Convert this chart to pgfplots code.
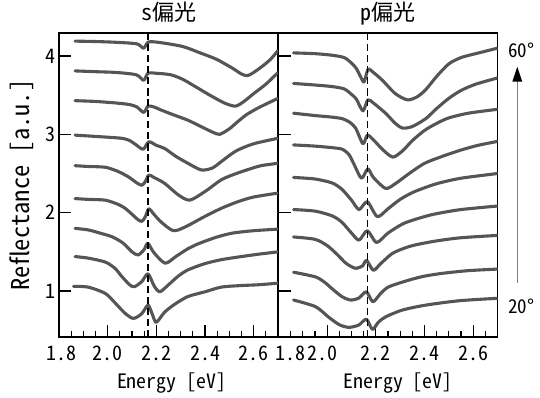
\documentclass[border=0pt]{standalone}
\usepackage{fontspec}
\setmainfont[RawFeature=+hwid]{Noto Sans CJK JP}
\usepackage{pgfplots}
\pgfplotsset{compat=1.18}
\definecolor{cg}{RGB}{85,85,85}
\pgfplotsset{
  panel/.style={
    scale only axis, width=219pt, height=304pt,
    xmin=1.8, xmax=2.7, ymin=0.413, ymax=4.294,
    axis line style={line width=1.3pt},
    xtick={1.8,2.0,2.2,2.4,2.6},
    minor xtick={1.85,1.9,1.95,2.05,2.1,2.15,2.25,2.3,2.35,2.45,2.5,2.55,2.65},
    ytick={1,2,3,4},
    xtick pos=bottom, ytick pos=left,
    tick align=inside,
    major tick length=12pt, minor tick length=6pt,
    tick style={black, line width=1.3pt},
    tick label style={font=\fontsize{20}{20}\selectfont},
    xticklabel style={yshift=-5pt},
    title style={font=\fontsize{22}{22}\selectfont, at={(0.5,1)}, anchor=base, yshift=6pt},
    cycle list={{cg,mark=none},{cg,mark=none}},
    every axis plot/.append style={line width=3.1pt, smooth, tension=0.45, line join=round, line cap=round},
  },
  dline/.style={black, line width=1.4pt, dash pattern=on 7pt off 4pt, line cap=butt},
}
\begin{document}
\begin{tikzpicture}
\useasboundingbox (0pt,0pt) rectangle (540pt,398pt);
% ---------------- s-polarized ----------------
\begin{axis}[panel, at={(59pt,61pt)}, anchor=south west,
  title={s偏光},
  xticklabels={\hspace*{4pt}1.8,2.0,2.2,2.4,2.6},
  yticklabels={1,2,3,4},
  xlabel={Energy [eV]},
  xlabel style={font=\fontsize{19.8}{19.8}\selectfont, at={(axis description cs:0.5,0)}, anchor=center, yshift=-46pt, xshift=3pt},
  ylabel={Reflectance [a.u.]},
  ylabel style={font=\fontsize{24.5}{24.5}\selectfont, at={(axis description cs:-0.169,0.5)}, anchor=center}]
% 20 deg
\addplot coordinates {(1.86,1.06) (1.92,1.05) (1.99,0.97) (2.03,0.85) (2.07,0.72) (2.105,0.65) (2.14,0.71) (2.166,0.82) (2.185,0.69) (2.20,0.60) (2.234,0.73) (2.275,0.83) (2.33,0.93) (2.40,0.99) (2.467,1.05) (2.55,1.07) (2.62,1.08) (2.70,1.10)};
% 25 deg
\addplot coordinates {(1.866,1.44) (1.92,1.42) (1.99,1.37) (2.03,1.29) (2.057,1.19) (2.09,1.08) (2.11,1.055) (2.14,1.12) (2.166,1.22) (2.19,1.07) (2.214,0.99) (2.25,1.08) (2.29,1.19) (2.33,1.27) (2.40,1.35) (2.467,1.40) (2.55,1.44) (2.62,1.47) (2.70,1.50)};
% 30 deg
\addplot coordinates {(1.866,1.80) (1.92,1.78) (1.968,1.74) (2.02,1.69) (2.064,1.61) (2.10,1.50) (2.125,1.46) (2.15,1.53) (2.165,1.61) (2.19,1.49) (2.236,1.355) (2.28,1.44) (2.33,1.54) (2.378,1.61) (2.45,1.69) (2.514,1.74) (2.60,1.77) (2.70,1.79)};
% 35 deg
\addplot coordinates {(1.866,2.18) (1.92,2.17) (1.99,2.16) (2.04,2.11) (2.07,2.06) (2.10,1.98) (2.125,1.91) (2.141,1.89) (2.155,1.95) (2.169,2.05) (2.19,1.98) (2.22,1.88) (2.27,1.77) (2.32,1.82) (2.398,1.95) (2.47,2.06) (2.535,2.14) (2.60,2.20) (2.70,2.25)};
% 40 deg
\addplot coordinates {(1.866,2.60) (1.92,2.59) (1.99,2.58) (2.04,2.53) (2.084,2.46) (2.12,2.38) (2.141,2.35) (2.155,2.40) (2.169,2.48) (2.19,2.45) (2.234,2.375) (2.289,2.23) (2.337,2.16) (2.40,2.27) (2.467,2.42) (2.52,2.49) (2.576,2.55) (2.63,2.60) (2.70,2.63)};
% 45 deg
\addplot coordinates {(1.866,2.99) (1.968,2.97) (2.057,2.95) (2.091,2.92) (2.115,2.87) (2.146,2.81) (2.169,2.905) (2.20,2.86) (2.234,2.82) (2.28,2.72) (2.33,2.63) (2.385,2.545) (2.43,2.57) (2.466,2.65) (2.50,2.73) (2.535,2.80) (2.60,2.88) (2.70,2.95)};
% 50 deg
\addplot coordinates {(1.866,3.43) (1.95,3.42) (2.036,3.40) (2.09,3.38) (2.12,3.35) (2.148,3.28) (2.166,3.36) (2.19,3.35) (2.22,3.31) (2.27,3.25) (2.33,3.18) (2.39,3.09) (2.43,3.03) (2.46,3.00) (2.50,3.07) (2.53,3.15) (2.57,3.25) (2.62,3.34) (2.70,3.46)};
% 55 deg
\addplot coordinates {(1.866,3.81) (1.95,3.80) (2.036,3.79) (2.118,3.76) (2.148,3.69) (2.166,3.78) (2.20,3.78) (2.26,3.76) (2.31,3.70) (2.36,3.61) (2.42,3.50) (2.48,3.40) (2.525,3.36) (2.56,3.42) (2.60,3.52) (2.65,3.64) (2.70,3.79)};
% 60 deg
\addplot coordinates {(1.866,4.19) (1.95,4.185) (2.036,4.175) (2.12,4.155) (2.148,4.10) (2.168,4.18) (2.22,4.17) (2.31,4.12) (2.38,4.04) (2.446,3.96) (2.51,3.85) (2.55,3.77) (2.575,3.75) (2.60,3.79) (2.64,3.88) (2.67,3.96) (2.70,4.07)};
\addplot[dline] coordinates {(2.165,0.413) (2.165,4.294)};
\end{axis}
% ---------------- p-polarized ----------------
\begin{axis}[panel, at={(278.5pt,61pt)}, anchor=south west,
  title={p偏光},
  xticklabels={\hspace*{24pt}1.8,2.0\hspace*{10pt},2.2,2.4,2.6},
  yticklabels={},
  xlabel={Energy [eV]},
  xlabel style={font=\fontsize{19.8}{19.8}\selectfont, at={(axis description cs:0.5,0)}, anchor=center, yshift=-46pt, xshift=10pt}]
% 20 deg
\addplot coordinates {(1.862,0.885) (1.952,0.80) (2.007,0.664) (2.05,0.57) (2.089,0.536) (2.13,0.566) (2.161,0.64) (2.186,0.51) (2.21,0.60) (2.24,0.67) (2.309,0.757) (2.405,0.82) (2.543,0.876) (2.70,0.907)};
% 25 deg
\addplot coordinates {(1.862,1.24) (1.952,1.18) (1.99,1.11) (2.02,1.03) (2.06,0.93) (2.096,0.885) (2.13,0.91) (2.161,0.99) (2.188,0.863) (2.22,0.97) (2.254,1.055) (2.337,1.14) (2.40,1.19) (2.474,1.226) (2.58,1.26) (2.70,1.28)};
% 30 deg
\addplot coordinates {(1.862,1.69) (1.95,1.66) (2.00,1.58) (2.04,1.47) (2.075,1.36) (2.10,1.31) (2.12,1.29) (2.145,1.32) (2.162,1.39) (2.19,1.265) (2.22,1.35) (2.268,1.48) (2.32,1.55) (2.364,1.59) (2.45,1.64) (2.55,1.68) (2.70,1.71)};
% 35 deg
\addplot coordinates {(1.862,2.04) (1.95,2.02) (2.02,1.96) (2.06,1.88) (2.10,1.74) (2.131,1.65) (2.165,1.77) (2.203,1.62) (2.25,1.74) (2.316,1.865) (2.40,1.95) (2.454,1.99) (2.55,2.04) (2.70,2.085)};
% 40 deg
\addplot coordinates {(1.862,2.45) (1.95,2.43) (2.02,2.38) (2.06,2.30) (2.10,2.16) (2.131,2.04) (2.165,2.14) (2.206,1.95) (2.25,2.05) (2.30,2.17) (2.36,2.27) (2.45,2.37) (2.55,2.44) (2.70,2.50)};
% 45 deg
\addplot coordinates {(1.862,2.865) (1.95,2.85) (2.02,2.83) (2.062,2.81) (2.09,2.74) (2.11,2.62) (2.141,2.44) (2.167,2.56) (2.19,2.45) (2.24,2.31) (2.28,2.37) (2.337,2.50) (2.40,2.63) (2.474,2.72) (2.55,2.80) (2.62,2.86) (2.70,2.91)};
% 50 deg
\addplot coordinates {(1.862,3.27) (1.95,3.24) (2.02,3.22) (2.062,3.20) (2.09,3.16) (2.117,3.08) (2.147,2.88) (2.165,2.99) (2.19,2.93) (2.23,2.80) (2.27,2.71) (2.31,2.79) (2.35,2.92) (2.40,3.05) (2.45,3.14) (2.50,3.21) (2.58,3.27) (2.70,3.32)};
% 55 deg
\addplot coordinates {(1.862,3.65) (1.95,3.63) (2.02,3.61) (2.07,3.58) (2.10,3.51) (2.12,3.45) (2.147,3.30) (2.167,3.44) (2.19,3.40) (2.24,3.27) (2.28,3.14) (2.31,3.08) (2.35,3.10) (2.405,3.20) (2.45,3.33) (2.50,3.46) (2.55,3.56) (2.61,3.64) (2.70,3.72)};
% 60 deg
\addplot coordinates {(1.862,4.04) (1.95,4.03) (2.02,4.01) (2.07,3.98) (2.10,3.91) (2.12,3.84) (2.14,3.72) (2.152,3.67) (2.168,3.83) (2.19,3.79) (2.227,3.69) (2.28,3.52) (2.33,3.44) (2.37,3.48) (2.405,3.57) (2.45,3.74) (2.50,3.90) (2.55,3.98) (2.61,4.03) (2.70,4.10)};
\addplot[dline] coordinates {(2.165,0.413) (2.165,4.294)};
\end{axis}
% angle annotation
\draw[gray, line width=0.9pt] (517.3pt,115pt) -- (517.3pt,318pt);
\fill[black] (517.3pt,331.3pt) -- (512.3pt,316.3pt) -- (522.3pt,316.3pt) -- cycle;
\node[anchor=west, inner sep=0pt, font=\fontsize{19}{19}\selectfont] at (508pt,348pt) {60°};
\node[anchor=west, inner sep=0pt, font=\fontsize{19}{19}\selectfont] at (508pt,92pt) {20°};
\end{tikzpicture}
\end{document}
